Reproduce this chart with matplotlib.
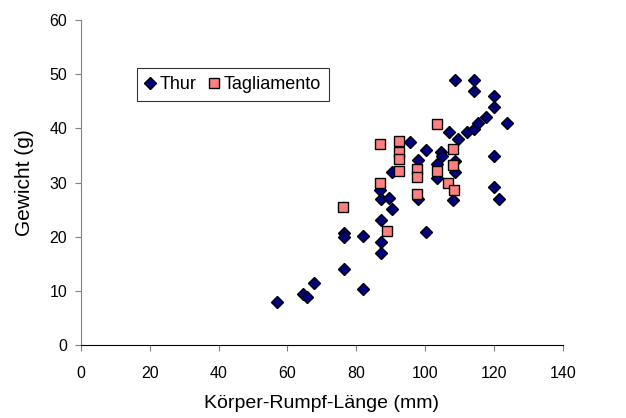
import matplotlib
matplotlib.use("Agg")
import matplotlib.pyplot as plt

plt.rcParams["font.family"] = ["Liberation Sans", "DejaVu Sans"]

# Thur (diamonds)
thur_len = [57.1, 64.6, 65.8, 67.8, 76.5, 82.0, 76.5, 76.5, 82.0, 87.1,
            87.1, 87.1, 87.1, 86.9, 89.5, 90.5, 100.2, 97.9, 90.3, 95.6,
            100.2, 97.9, 107.0, 104.6, 104.8, 103.6, 103.4, 108.2, 108.7, 108.7,
            109.7, 112.1, 114.3, 115.5, 117.7, 119.9, 119.9, 114.3, 108.7, 114.2,
            123.7, 119.9, 119.9, 121.6]
thur_gew = [7.9, 9.5, 8.9, 11.5, 14.0, 10.4, 20.6, 20.0, 20.2, 16.9,
            19.1, 23.1, 27.0, 28.7, 27.1, 25.1, 20.8, 27.0, 32.0, 37.4,
            36.0, 34.2, 39.3, 35.7, 34.9, 33.4, 30.8, 26.8, 34.0, 32.0,
            38.0, 39.3, 39.9, 40.9, 42.1, 44.0, 46.0, 46.9, 48.9, 48.9,
            40.9, 34.9, 29.2, 27.0]

# Tagliamento (squares)
tag_len = [76.1, 89.0, 86.9, 86.9, 92.5, 92.5, 92.5, 92.5, 97.6, 97.6,
           97.6, 103.4, 103.4, 106.6, 108.2, 108.2, 108.4]
tag_gew = [25.4, 21.0, 37.2, 30.0, 37.7, 35.6, 34.3, 32.1, 32.5, 31.0,
           27.9, 40.8, 32.1, 30.0, 36.1, 33.2, 28.6]

fig = plt.figure(figsize=(6.26, 4.18), dpi=100)
ax = fig.add_axes([0.1294, 0.1746, 0.7695, 0.7775])

ax.plot(thur_len, thur_gew, linestyle="none", marker="D", markersize=6.5,
        markerfacecolor="#000080", markeredgecolor="black", markeredgewidth=1.0,
        label="Thur")
ax.plot(tag_len, tag_gew, linestyle="none", marker="s", markersize=7.5,
        markerfacecolor="#FF8080", markeredgecolor="black", markeredgewidth=1.0,
        label="Tagliamento")

ax.set_xlim(0, 140)
ax.set_ylim(0, 60)
ax.set_xticks(range(0, 141, 20))
ax.set_yticks(range(0, 61, 10))

ax.spines["top"].set_visible(False)
ax.spines["right"].set_visible(False)
ax.spines["left"].set_color("#808080")
ax.spines["bottom"].set_color("black")
ax.tick_params(direction="out", length=4, labelsize=11.5, colors="#808080",
               labelcolor="black")
ax.tick_params(axis="x", pad=11)
ax.tick_params(axis="y", pad=6)

ax.set_xlabel("Körper-Rumpf-Länge (mm)", fontsize=14, labelpad=10)
ax.set_ylabel("Gewicht (g)", fontsize=15, labelpad=11)

leg = ax.legend(loc="upper left", bbox_to_anchor=(0.116, 0.852), borderaxespad=0,
                ncol=2, fontsize=13, frameon=True, fancybox=False,
                edgecolor="black", handlelength=0.6, handletextpad=0.2,
                columnspacing=0.7, borderpad=0.45, numpoints=1)
leg.get_frame().set_linewidth(0.8)

fig.savefig("out.png", dpi=100)
